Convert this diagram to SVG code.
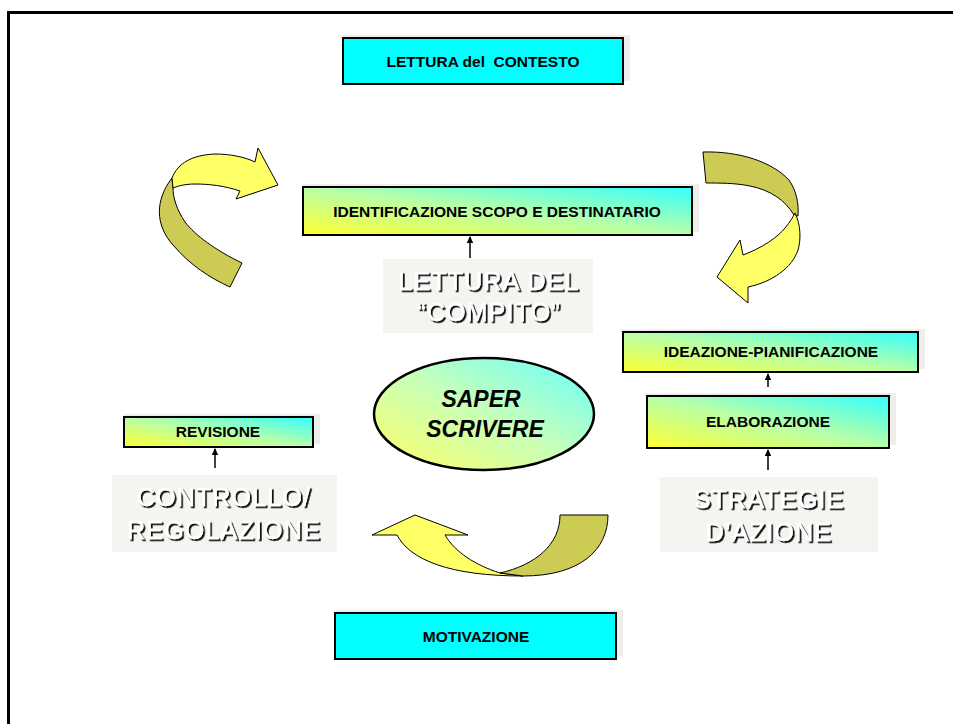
<svg xmlns="http://www.w3.org/2000/svg" width="953" height="724" viewBox="0 0 953 724">
<defs>
  <linearGradient id="yc" x1="0" y1="1" x2="1" y2="0">
    <stop offset="0" stop-color="#FFFF33"/>
    <stop offset="0.5" stop-color="#B8FFA8"/>
    <stop offset="1" stop-color="#33FFFF"/>
  </linearGradient>
  <linearGradient id="ycl" x1="0" y1="1" x2="1" y2="0">
    <stop offset="0" stop-color="#FFFF66"/>
    <stop offset="0.5" stop-color="#C8FFB8"/>
    <stop offset="1" stop-color="#66FFFF"/>
  </linearGradient>
  <filter id="ts" x="-10%" y="-30%" width="120%" height="160%">
    <feDropShadow dx="1.8" dy="1.8" stdDeviation="0.3" flood-color="#111111" flood-opacity="1"/>
  </filter>
  <marker id="ah" markerWidth="8" markerHeight="8" refX="6" refY="4" orient="auto" markerUnits="userSpaceOnUse">
    <path d="M0,0.8 L7,4 L0,7.2 Z" fill="#000"/>
  </marker>
</defs>
<style>
  .box{stroke:#000;stroke-width:2}
  .cyan{fill:#00FFFF}
  .grad{fill:url(#yc)}
  .sh{fill:#EFEEEA}
  .gbox{fill:#F5F4F0}
  .bt{font-family:"Liberation Sans",Arial,sans-serif;font-weight:bold;font-size:15.5px;fill:#000;text-anchor:middle;white-space:pre}
  .big{font-family:"Liberation Sans",Arial,sans-serif;font-size:25px;letter-spacing:1.2px;fill:#FFFFFF;stroke:#FFFFFF;stroke-width:0.5;text-anchor:middle;filter:url(#ts)}
  .ell{font-family:"Liberation Sans",Arial,sans-serif;font-weight:bold;font-style:italic;font-size:23px;fill:#000;text-anchor:middle}
  .yel{fill:#FFFF66;stroke:#000;stroke-width:1}
  .oli{fill:#CCCC55;stroke:#000;stroke-width:1}
  .conn{stroke:#000;stroke-width:1.5;fill:none;marker-end:url(#ah)}
</style>
<rect x="0" y="0" width="953" height="724" fill="#FFFFFF"/>
<path d="M8.5,724 V12.5 H953" fill="none" stroke="#000" stroke-width="3"/>

<g id="lettura-contesto">
  <rect class="sh" x="343" y="35" width="287" height="46"/>
  <rect class="box cyan" x="343" y="38" width="280" height="46"/>
  <text class="bt" x="483" y="67" xml:space="preserve">LETTURA del  CONTESTO</text>
</g>

<g id="identificazione">
  <rect class="sh" x="303" y="184" width="396" height="48"/>
  <rect class="box grad" x="303" y="187" width="389" height="48"/>
  <text class="bt" x="497" y="217">IDENTIFICAZIONE SCOPO E DESTINATARIO</text>
</g>

<g id="lettura-compito">
  <rect class="gbox" x="383" y="259" width="210" height="74"/>
  <text class="big" x="489" y="290">LETTURA DEL</text>
  <text class="big" x="489" y="321">“COMPITO”</text>
</g>

<g id="ideazione">
  <rect class="sh" x="623" y="329" width="302" height="40"/>
  <rect class="box grad" x="623" y="332" width="295" height="40"/>
  <text class="bt" x="771" y="357">IDEAZIONE-PIANIFICAZIONE</text>
</g>

<g id="elaborazione">
  <rect class="sh" x="647" y="393" width="249" height="52"/>
  <rect class="box grad" x="647" y="396" width="242" height="52"/>
  <text class="bt" x="768" y="427">ELABORAZIONE</text>
</g>

<g id="strategie">
  <rect class="gbox" x="660" y="477" width="218" height="75"/>
  <text class="big" x="769" y="508">STRATEGIE</text>
  <text class="big" x="769" y="541">D’AZIONE</text>
</g>

<g id="revisione">
  <rect class="sh" x="124" y="414" width="196" height="30"/>
  <rect class="box grad" x="124" y="417" width="189" height="30"/>
  <text class="bt" x="218" y="437">REVISIONE</text>
</g>

<g id="controllo">
  <rect class="gbox" x="112" y="475" width="225" height="77"/>
  <text class="big" x="224" y="506">CONTROLLO/</text>
  <text class="big" x="224" y="539">REGOLAZIONE</text>
</g>

<g id="saper-scrivere">
  <ellipse cx="484" cy="414" rx="110" ry="56" fill="url(#ycl)" stroke="#000" stroke-width="2.5"/>
  <text class="ell" x="481" y="407">SAPER</text>
  <text class="ell" x="485" y="437">SCRIVERE</text>
</g>

<g id="motivazione">
  <rect class="sh" x="335" y="610" width="288" height="46"/>
  <rect class="box cyan" x="335" y="613" width="281" height="46"/>
  <text class="bt" x="476" y="642">MOTIVAZIONE</text>
</g>

<g id="cycle-arrows">
  <path class="oli" d="M172,178 C155,200 155,225 173,245 C190,265 210,278 230,287 L242,263 C215,250 195,235 185,222 C177,210 173,198 173,188 Z"/>
  <path class="yel" d="M172,178 C178,163 192,155 215,154 C230,154 245,157 255,162 L258,148 L278,185 L236,199 L240,191 C225,186 210,184 195,184 C185,184 178,186 173,188 Z"/>
  <path class="oli" d="M703,152 C740,151 772,162 789,180 C796,190 799,203 798,216 L794,215 C785,200 770,190 750,186 C735,183 720,183 706,183 Z"/>
  <path class="yel" d="M795,213 C801,225 801,240 798,250 C792,268 772,282 748,287 L748,303 L717,277 L740,240 L743,255 C762,248 778,237 785,228 C790,222 793,217 795,213 Z"/>
  <path class="yel" d="M397,535 C410,560 450,576 523,576 L500,573 C475,565 455,552 445,535 L468,535 L415,515 L372,535 Z"/>
  <path class="oli" d="M560,515 L608,515 C608,550 580,576 523,576 L500,573 C535,565 560,545 560,515 Z"/>
</g>

<g id="connectors">
  <line class="conn" x1="470" y1="258" x2="470" y2="237"/>
  <line class="conn" x1="215" y1="468" x2="215" y2="449"/>
  <line class="conn" x1="768" y1="387" x2="768" y2="374"/>
  <line class="conn" x1="768" y1="470" x2="768" y2="450"/>
</g>
</svg>
